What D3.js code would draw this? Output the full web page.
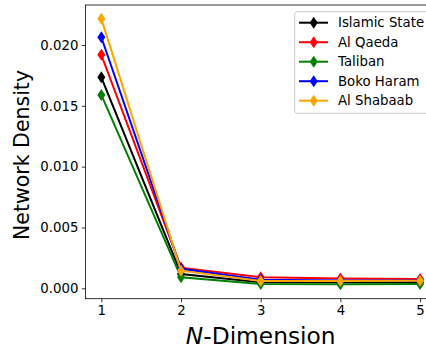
<!DOCTYPE html>
<html>
<head>
<meta charset="utf-8">
<script src="https://cdn.jsdelivr.net/npm/d3@7"></script>
<style>
  html, body { margin: 0; padding: 0; background: #fff; }
  svg { display: block; font-family: "DejaVu Sans", sans-serif; }
</style>
</head>
<body>
<svg id="chart" width="426" height="349"></svg>
<script>
// N-dimension values on the x axis
const dimensions = [1, 2, 3, 4, 5];

// Network density per organisation
const seriesNames = ["Islamic State", "Al Qaeda", "Taliban", "Boko Haram", "Al Shabaab"];
const seriesColors = ["#000000", "#ff0000", "#008000", "#0000ff", "#ffa500"];
const islamicState = [0.01735, 0.00118, 0.00050, 0.00049, 0.00049];
const alQaeda      = [0.01919, 0.00170, 0.00090, 0.00080, 0.00077];
const taliban      = [0.01590, 0.00090, 0.00035, 0.00033, 0.00035];
const bokoHaram    = [0.02064, 0.00160, 0.00070, 0.00065, 0.00064];
const alShabaab    = [0.02215, 0.00145, 0.00060, 0.00060, 0.00062];
const seriesValues = [islamicState, alQaeda, taliban, bokoHaram, alShabaab];

const yTicks = [0.000, 0.005, 0.010, 0.015, 0.020];

const svg = d3.select("#chart");

const plot = { left: 85.4, right: 436, top: 5, bottom: 298.7 };

const x = d3.scaleLinear().domain([0.8, 5.2]).range([plot.left, plot.right]);
const y = d3.scaleLinear().domain([-0.000855, 0.02329]).range([plot.bottom, plot.top]);

// Axes
const xAxis = svg.append("g")
  .attr("transform", `translate(0,${plot.bottom})`)
  .call(d3.axisBottom(x).tickValues(dimensions).tickFormat(d3.format("d")).tickSizeOuter(0).tickSize(3.5).tickPadding(3.5));
const yAxis = svg.append("g")
  .attr("transform", `translate(${plot.left},0)`)
  .call(d3.axisLeft(y).tickValues(yTicks).tickFormat(d3.format(".3f")).tickSizeOuter(0).tickSize(3.5).tickPadding(3.5));

[xAxis, yAxis].forEach(g => {
  g.select(".domain").remove();
  g.selectAll("line").attr("stroke", "#000").attr("stroke-width", 0.8);
  g.selectAll("text").attr("fill", "#000").style("font-size", "13.3px").style("font-family", "DejaVu Sans");
});

// Spines
svg.append("rect")
  .attr("x", plot.left).attr("y", plot.top)
  .attr("width", plot.right - plot.left).attr("height", plot.bottom - plot.top)
  .attr("fill", "none").attr("stroke", "#000").attr("stroke-width", 0.8);

// Thin diamond marker path
const diamond = (w, h) => `M0,${-h/2}L${w/2},0L0,${h/2}L${-w/2},0Z`;

const line = d3.line().x((d, i) => x(dimensions[i])).y(d => y(d));

seriesValues.forEach((vals, s) => {
  const g = svg.append("g");
  g.append("path")
    .attr("d", line(vals))
    .attr("fill", "none")
    .attr("stroke", seriesColors[s])
    .attr("stroke-width", 2);
  g.selectAll("path.m").data(vals).enter().append("path")
    .attr("class", "m")
    .attr("d", diamond(8, 12))
    .attr("transform", (d, i) => `translate(${x(dimensions[i])},${y(d)})`)
    .attr("fill", seriesColors[s]);
});

// Legend
const legend = svg.append("g");
legend.append("rect")
  .attr("x", 294.7).attr("y", 11.7)
  .attr("width", 150).attr("height", 101.6)
  .attr("rx", 2.5)
  .attr("fill", "rgba(255,255,255,0.8)")
  .attr("stroke", "#cccccc").attr("stroke-width", 1);

seriesNames.forEach((name, s) => {
  const cy = 22.7 + s * 19.5;
  legend.append("line")
    .attr("x1", 299).attr("x2", 328).attr("y1", cy).attr("y2", cy)
    .attr("stroke", seriesColors[s]).attr("stroke-width", 2);
  legend.append("path")
    .attr("d", diamond(8, 12))
    .attr("transform", `translate(313.7,${cy})`)
    .attr("fill", seriesColors[s]);
  legend.append("text")
    .attr("x", 338).attr("y", cy)
    .attr("dy", "0.36em")
    .style("font-size", "13.3px")
    .attr("fill", "#000")
    .text(name);
});

// Axis labels
svg.append("text")
  .attr("transform", "translate(29,155) rotate(-90)")
  .attr("text-anchor", "middle")
  .style("font-size", "20.5px")
  .attr("fill", "#000")
  .text("Network Density");

const xl = svg.append("text")
  .attr("x", 260.7).attr("y", 343.5)
  .attr("text-anchor", "middle")
  .style("font-size", "23.3px")
  .attr("fill", "#000");
xl.append("tspan").style("font-style", "italic").text("N");
xl.append("tspan").text("-Dimension");
</script>
</body>
</html>
